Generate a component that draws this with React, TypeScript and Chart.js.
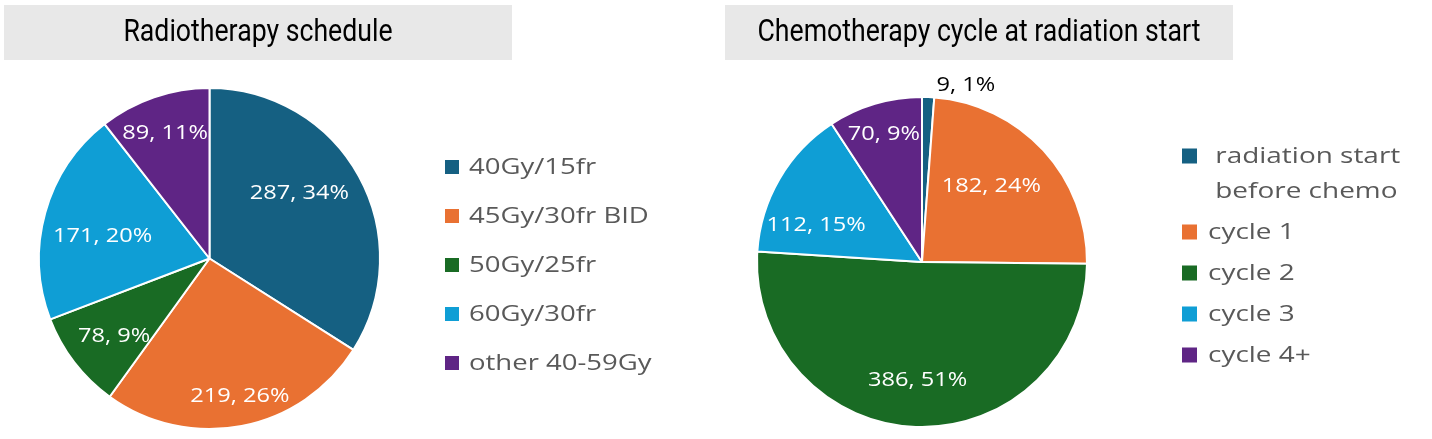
import React, { useEffect, useRef } from "react";
import { Chart, registerables } from "chart.js";
Chart.register(...registerables);

// ---------- data ----------
const rtTitle = "Radiotherapy schedule";
const rtLabels = ["40Gy/15fr", "45Gy/30fr BID", "50Gy/25fr", "60Gy/30fr", "other 40-59Gy"];
const rtValues = [287, 219, 78, 171, 89];

const chemoTitle = "Chemotherapy cycle at radiation start";
const chemoLabels = [[" radiation start", " before chemo"], "cycle 1", "cycle 2", "cycle 3", "cycle 4+"];
const chemoValues = [9, 182, 386, 112, 70];

const sliceColors = ["#156082", "#E97132", "#196B24", "#0F9ED5", "#5F2585"];

const LABEL_FONT = "20px 'Open Sans', 'Noto Sans', sans-serif";
const LEGEND_FONT = "22px 'Open Sans', 'Noto Sans', sans-serif";
const TITLE_FONT = "31px 'Roboto', 'Liberation Sans', sans-serif";

function drawText(ctx: CanvasRenderingContext2D, text: string, x: number, y: number, sx: number) {
  ctx.save();
  ctx.translate(x, y);
  ctx.scale(sx, 1);
  ctx.fillText(text, 0, 0);
  ctx.restore();
}

// custom plugin: title box, data labels, legend
const decorPlugin = {
  id: "decor",
  beforeDraw(chart: any) {
    const o = chart.options.plugins.decor;
    const ctx = chart.ctx;
    ctx.save();
    ctx.fillStyle = "#E8E8E8";
    ctx.fillRect(o.titleBox.x, o.titleBox.y, o.titleBox.w, o.titleBox.h);
    ctx.fillStyle = "#000000";
    ctx.font = TITLE_FONT;
    ctx.textAlign = "center";
    ctx.textBaseline = "middle";
    drawText(ctx, o.title, o.titleBox.x + o.titleBox.w / 2, o.titleBox.y + o.titleBox.h / 2 + 1, 0.86);
    ctx.restore();
  },
  afterDatasetsDraw(chart: any) {
    const o = chart.options.plugins.decor;
    const ctx = chart.ctx;
    const ds = chart.data.datasets[0];
    const total = ds.data.reduce((a: number, b: number) => a + b, 0);
    const meta = chart.getDatasetMeta(0);
    ctx.save();
    ctx.font = LABEL_FONT;
    ctx.textBaseline = "middle";
    meta.data.forEach((arc: any, i: number) => {
      const p = arc.getProps(["x", "y", "startAngle", "endAngle", "outerRadius"], true);
      const lp = o.labelPos[i];
      const mid = (p.startAngle + p.endAngle) / 2 + (lp.a * Math.PI) / 180;
      const r = p.outerRadius * lp.r;
      let x = p.x + Math.cos(mid) * r;
      const y = p.y + Math.sin(mid) * r;
      const text = `${ds.data[i]}, ${Math.round((ds.data[i] / total) * 100)}%`;
      if (lp.outside) {
        ctx.fillStyle = "#000000";
        ctx.textAlign = "left";
        x += 8;
      } else {
        ctx.fillStyle = "#FFFFFF";
        ctx.textAlign = "center";
      }
      drawText(ctx, text, x, y, 1.18);
    });
    ctx.restore();
  },
  afterDraw(chart: any) {
    const o = chart.options.plugins.decor;
    const ctx = chart.ctx;
    const ds = chart.data.datasets[0];
    const lg = o.legend;
    ctx.save();
    ctx.font = LEGEND_FONT;
    ctx.textBaseline = "middle";
    ctx.textAlign = "left";
    let y = lg.y;
    chart.data.labels.forEach((lab: any, i: number) => {
      const lines = Array.isArray(lab) ? lab : [lab];
      ctx.fillStyle = ds.backgroundColor[i];
      ctx.fillRect(lg.x, y - lg.box / 2 - 1, lg.box, lg.box);
      ctx.fillStyle = "#595959";
      lines.forEach((ln: string, k: number) => {
        drawText(ctx, ln, lg.x + lg.box + lg.gap, y + k * lg.lineH, lg.sx);
      });
      y += (lines.length - 1) * lg.lineH + lg.step;
    });
    ctx.restore();
  },
};

function PieChart(props: {
  left: number;
  title: string;
  labels: any[];
  values: number[];
  padding: any;
  titleBox: any;
  legend: any;
  labelPos: any[];
}) {
  const ref = useRef<HTMLCanvasElement>(null);
  useEffect(() => {
    const chart = new Chart(ref.current as HTMLCanvasElement, {
      type: "pie",
      data: {
        labels: props.labels,
        datasets: [
          {
            data: props.values,
            backgroundColor: sliceColors,
            borderColor: "#FFFFFF",
            borderWidth: 2,
          },
        ],
      },
      options: {
        responsive: false,
        animation: false,
        devicePixelRatio: 1,
        layout: { padding: props.padding },
        plugins: {
          legend: { display: false },
          tooltip: { enabled: false },
          title: { display: false },
          decor: {
            title: props.title,
            titleBox: props.titleBox,
            legend: props.legend,
            labelPos: props.labelPos,
          },
        } as any,
      },
      plugins: [decorPlugin],
    });
    return () => chart.destroy();
  }, []);
  return (
    <canvas
      ref={ref}
      width={716}
      height={439}
      style={{ position: "absolute", left: props.left, top: 0, width: 716, height: 439 }}
    />
  );
}

export default function App() {
  return (
    <div style={{ position: "fixed", left: 0, top: 0, width: 1432, height: 439, background: "#FFFFFF" }}>
      <PieChart
        left={0}
        title={rtTitle}
        labels={rtLabels}
        values={rtValues}
        padding={{ left: 38, right: 335, top: 87, bottom: 9 }}
        titleBox={{ x: 4, y: 5, w: 508, h: 55 }}
        legend={{ x: 445, y: 168, box: 14, gap: 10, lineH: 35, step: 49, sx: 1.25 }}
        labelPos={[
          { r: 0.65, a: -7 },
          { r: 0.83, a: -1.5 },
          { r: 0.72, a: -1.5 },
          { r: 0.64, a: -3.7 },
          { r: 0.78, a: -0.5 },
        ]}
      />
      <PieChart
        left={716}
        title={chemoTitle}
        labels={chemoLabels}
        values={chemoValues}
        padding={{ left: 40, right: 344, top: 96, bottom: 11 }}
        titleBox={{ x: 9, y: 5, w: 508, h: 55 }}
        legend={{ x: 466, y: 157, box: 15, gap: 11, lineH: 35, step: 41, sx: 1.27 }}
        labelPos={[
          { r: 1.07, a: 0, outside: true },
          { r: 0.62, a: -4.8 },
          { r: 0.72, a: 0 },
          { r: 0.68, a: -11 },
          { r: 0.81, a: 0 },
        ]}
      />
    </div>
  );
}
